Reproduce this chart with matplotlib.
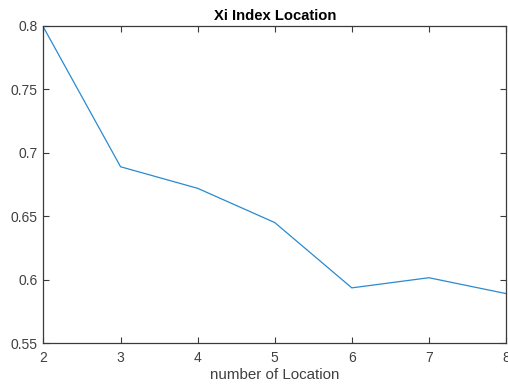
import matplotlib
matplotlib.use("Agg")
import matplotlib.pyplot as plt

# valores
locations = [2, 3, 4, 5, 6, 7, 8]
xi_index = [0.799, 0.689, 0.672, 0.645, 0.5935, 0.6015, 0.589]
x_ticks = [2, 3, 4, 5, 6, 7, 8]
y_ticks = [0.55, 0.6, 0.65, 0.7, 0.75, 0.8]
y_tick_labels = ["0.55", "0.6", "0.65", "0.7", "0.75", "0.8"]

plt.rcParams['font.family'] = ['Liberation Sans', 'DejaVu Sans']

fig = plt.figure(figsize=(5.08, 3.85), dpi=100)
ax = fig.add_axes([0.0856, 0.109, 0.9104, 0.8235])

ax.plot(locations, xi_index, color='#2a8ad0', linewidth=0.9)

ax.set_xlim(2, 8)
ax.set_ylim(0.55, 0.8)
ax.set_xticks(x_ticks)
ax.set_yticks(y_ticks)
ax.set_yticklabels(y_tick_labels)

edge = '#3a3a3a'
for s in ax.spines.values():
    s.set_color(edge)
    s.set_linewidth(0.9)
ax.tick_params(direction='in', top=True, right=True, length=4, width=0.8,
               colors=edge, labelsize=10, labelcolor='#404040')
ax.tick_params(axis='x', pad=6)
ax.tick_params(axis='y', pad=4)

ax.set_title('Xi Index Location', fontsize=10.6, fontweight='bold', pad=4)
ax.set_xlabel('number of Location', fontsize=10.9, color='#404040', labelpad=2)

fig.savefig('out.png', dpi=100)
